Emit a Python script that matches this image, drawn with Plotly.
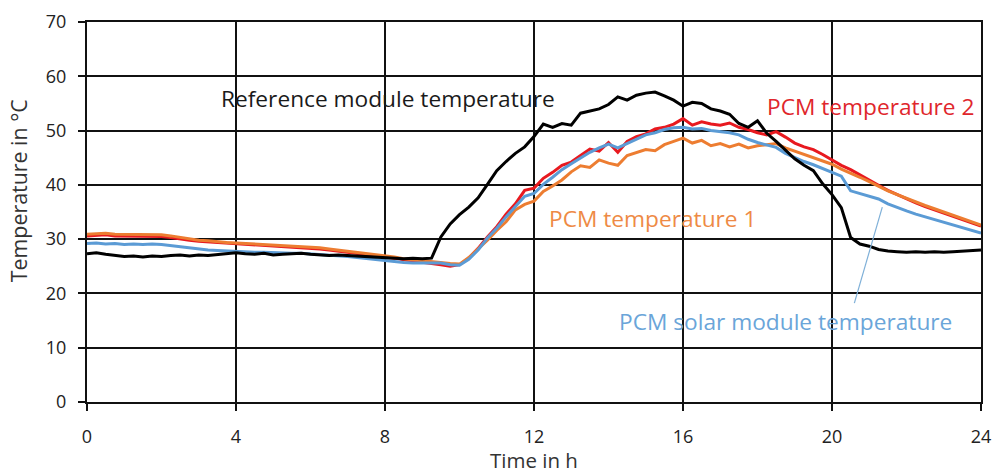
import plotly.graph_objects as go

hours = [i * 0.25 for i in range(97)]

reference_module = [
    27.3, 27.5, 27.2, 27.0, 26.8, 26.9, 26.7, 26.9, 26.8, 27.0, 27.1, 26.9,
    27.1, 27.0, 27.2, 27.3, 27.5, 27.3, 27.2, 27.4, 27.1, 27.2, 27.3, 27.4,
    27.2, 27.1, 27.0, 27.1, 27.0, 26.9, 26.8, 26.7, 26.6, 26.5, 26.4, 26.5,
    26.4, 26.5, 30.4, 32.8, 34.5, 35.9, 37.6, 40.1, 42.6, 44.3, 45.8, 47.0,
    48.9, 51.2, 50.6, 51.3, 51.0, 53.2, 53.6, 54.0, 54.8, 56.2, 55.6, 56.5,
    56.9, 57.1, 56.4, 55.6, 54.5, 55.2, 55.0, 54.0, 53.6, 53.0, 51.3, 50.6,
    51.8, 49.5, 48.0, 46.4, 44.8, 43.6, 42.6, 40.2, 38.2, 35.8, 30.3, 29.1,
    28.7, 28.1, 27.8, 27.7, 27.6, 27.7, 27.6, 27.7, 27.6, 27.7, 27.8, 27.9,
    28.0,
]

pcm_solar_module = [
    29.2, 29.3, 29.1, 29.2, 29.0, 29.1, 29.0, 29.1, 29.0, 28.8, 28.5, 28.3,
    28.2, 28.0, 27.9, 27.8, 27.7, 27.7, 27.6, 27.6, 27.5, 27.5, 27.4, 27.4,
    27.3, 27.2, 27.0, 26.9, 26.8, 26.6, 26.4, 26.2, 26.0, 25.9, 25.7, 25.6,
    25.6, 25.7, 25.6, 25.3, 25.2, 26.3, 28.0, 30.2, 32.0, 34.1, 36.0, 37.9,
    38.4, 40.1, 41.4, 42.8, 43.9, 45.0, 46.0, 46.8, 47.5, 46.8, 47.6, 48.5,
    49.2, 49.6, 50.2, 50.5, 50.6, 50.3, 50.4, 50.0, 49.8, 49.6, 49.2, 48.4,
    47.8, 47.4, 46.9, 45.8, 45.0, 44.3, 43.7, 43.0, 42.2, 41.6, 38.9, 38.4,
    37.9, 37.4, 36.5, 35.8, 35.2, 34.6, 34.1, 33.6, 33.1, 32.6, 32.0, 31.5,
    31.1,
]

pcm_temp_1 = [
    30.9, 31.0, 31.1, 30.9, 30.9, 30.8, 30.9, 30.8, 30.8, 30.6, 30.3, 30.0,
    29.8, 29.7, 29.5, 29.4, 29.3, 29.2, 29.1, 29.0, 28.9, 28.8, 28.8, 28.7,
    28.6, 28.4, 28.2, 28.0, 27.7, 27.5, 27.4, 27.2, 27.0, 26.7, 26.4, 26.2,
    26.0, 25.9, 25.7, 25.5, 25.4, 26.6, 28.2, 29.8, 31.6, 33.2, 35.4, 36.4,
    37.0, 38.8, 39.8, 40.9, 42.4, 43.5, 43.2, 44.6, 44.0, 43.6, 45.4, 46.0,
    46.5, 46.3, 47.4, 48.0, 48.6, 47.7, 48.2, 47.2, 47.6, 47.0, 47.5, 46.8,
    47.2, 47.4, 47.6, 46.8, 46.2, 45.6, 45.0, 44.5, 43.8, 42.9, 42.2, 41.4,
    40.6, 39.7, 38.9, 38.2, 37.5, 36.8, 36.2, 35.6, 35.0, 34.4, 33.8, 33.2,
    32.6,
]

pcm_temp_2 = [
    30.6, 30.7, 30.8, 30.6, 30.6, 30.5, 30.6, 30.5, 30.5, 30.3, 30.0, 29.8,
    29.6, 29.5, 29.3, 29.2, 29.1, 29.0, 28.9, 28.8, 28.7, 28.6, 28.6, 28.5,
    28.4, 28.2, 28.0, 27.8, 27.5, 27.3, 27.2, 27.0, 26.8, 26.5, 26.2, 26.0,
    25.8, 25.6, 25.3, 25.0, 25.3, 26.5, 28.3, 30.4, 32.3, 34.6, 36.5, 39.0,
    39.4, 41.2, 42.3, 43.6, 44.2, 45.4, 46.6, 46.2, 47.8, 46.0, 48.0, 48.9,
    49.4, 50.3, 50.6, 51.2, 52.2, 51.0, 51.6, 51.2, 51.0, 51.4, 50.6, 50.2,
    49.6, 49.2, 49.8, 48.8, 47.7, 47.0, 46.5, 45.6, 44.6, 43.6, 42.8, 41.8,
    40.8, 39.9, 39.0, 38.2, 37.4, 36.7, 36.0, 35.4, 34.8, 34.2, 33.6, 33.0,
    32.4,
]

x_ticks = [0, 4, 8, 12, 16, 20, 24]
y_ticks = [0, 10, 20, 30, 40, 50, 60, 70]

FONT = "Open Sans"
C_BLACK = "#000000"
C_RED = "#e8191f"
C_ORANGE = "#ed7d31"
C_BLUE = "#5b9bd5"

fig = go.Figure()
fig.add_trace(go.Scatter(x=hours, y=pcm_temp_2, mode="lines",
                         line=dict(color=C_RED, width=3), name="PCM temperature 2"))
fig.add_trace(go.Scatter(x=hours, y=pcm_temp_1, mode="lines",
                         line=dict(color=C_ORANGE, width=3), name="PCM temperature 1"))
fig.add_trace(go.Scatter(x=hours, y=pcm_solar_module, mode="lines",
                         line=dict(color=C_BLUE, width=3), name="PCM solar module temperature"))
fig.add_trace(go.Scatter(x=hours, y=reference_module, mode="lines",
                         line=dict(color=C_BLACK, width=3), name="Reference module temperature"))

labels = [
    ("Reference module temperature", 8.08, 56.0, "#1a1a1a"),
    ("PCM temperature 2", 21.02, 54.4, "#e0262c"),
    ("PCM temperature 1", 15.19, 33.8, "#ee8a45"),
    ("PCM solar module temperature", 18.74, 14.9, "#6aa5d9"),
]
for text, lx, ly, col in labels:
    fig.add_annotation(x=lx, y=ly, xref="x", yref="y", text=text, showarrow=False,
                       font=dict(family=FONT, size=22.7, color=col))

fig.add_shape(type="line", xref="x", yref="y", x0=20.6, y0=18.2, x1=21.35, y1=35.9,
              line=dict(color="#7fb0d8", width=1.2))

fig.add_annotation(x=-0.077, y=0.555, xref="paper", yref="paper", text="Temperature in °C",
                   showarrow=False, textangle=-90, xanchor="center", yanchor="middle",
                   font=dict(family=FONT, size=21.4, color="#333333"))
fig.add_annotation(x=0.5, y=-0.19, xref="paper", yref="paper", text="Time in h",
                   showarrow=False, xanchor="center", yanchor="bottom", yshift=-2,
                   font=dict(family=FONT, size=20.5, color="#333333"))

fig.update_layout(
    width=993, height=474,
    margin=dict(l=87, r=12, t=22, b=72),
    paper_bgcolor="white", plot_bgcolor="white",
    showlegend=False,
    font=dict(family=FONT, size=18, color="#222222"),
)
axis_common = dict(showgrid=True, gridcolor="#111111", gridwidth=1.8,
                   showline=True, linecolor="#111111", linewidth=2, mirror=True,
                   ticks="outside", ticklen=7, tickwidth=1.8, tickcolor="#111111",
                   zeroline=False, automargin=False,
                   tickfont=dict(family=FONT, size=18, color="#222222"))
fig.update_xaxes(range=[0, 24], tickvals=x_ticks, ticktext=[str(v) for v in x_ticks],
                 ticklabelstandoff=10, **axis_common)
fig.update_yaxes(range=[0, 70], tickvals=y_ticks, ticktext=[str(v) for v in y_ticks],
                 ticklabelstandoff=8, **axis_common)

fig.write_html("out.html")
